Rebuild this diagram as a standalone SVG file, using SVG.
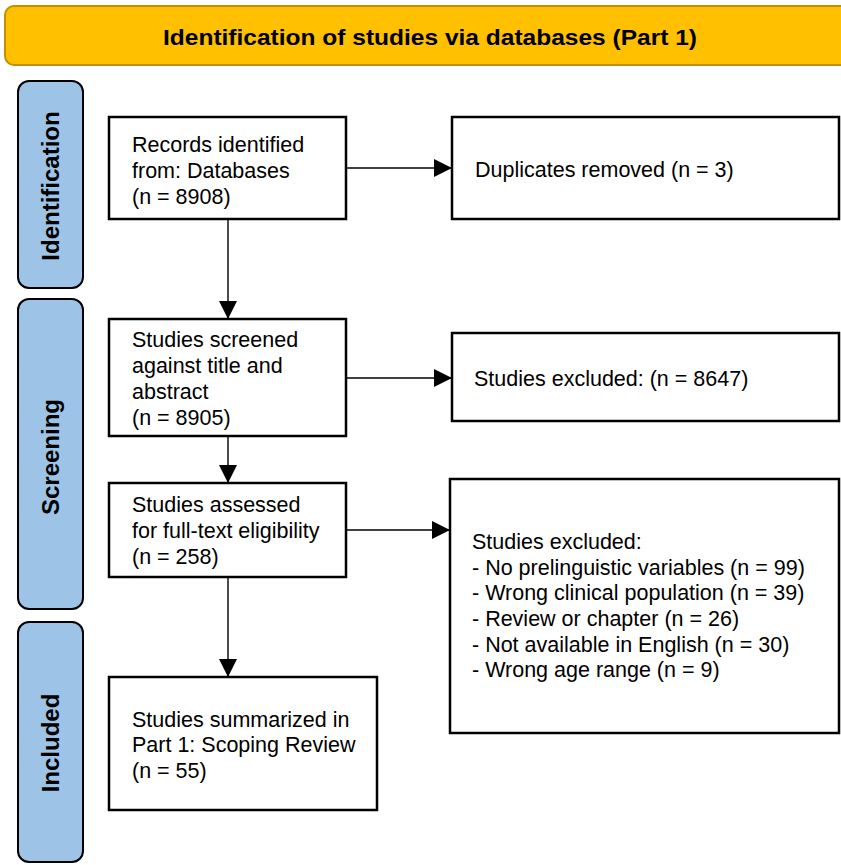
<svg xmlns="http://www.w3.org/2000/svg" width="841" height="865" viewBox="0 0 841 865">
<style>
.bg{fill:#ffffff}
.box{fill:#ffffff;stroke:#000000;stroke-width:2.5}
.side{fill:#9dc3e6;stroke:#000000;stroke-width:2}
.head{fill:#ffc000;stroke:#bf9000;stroke-width:2}
.t{font-family:"Liberation Sans",Arial,sans-serif;font-size:21.5px;fill:#000000}
.st{font-family:"Liberation Sans",Arial,sans-serif;font-size:24px;font-weight:bold;fill:#000000}
.ht{font-family:"Liberation Sans",Arial,sans-serif;font-size:22px;font-weight:bold;fill:#000000}
.ln{stroke:#000000;stroke-width:1.4;fill:none}
</style>
<defs>
<marker id="arr" viewBox="0 0 18 18" refX="18" refY="9" markerWidth="18" markerHeight="18" markerUnits="userSpaceOnUse" orient="auto">
<path d="M0,0 L18,9 L0,18 z" fill="#000000"/>
</marker>
</defs>
<rect class="bg" x="0" y="0" width="841" height="865"/>
<g id="header">
<rect class="head" x="5" y="6" width="850" height="59" rx="9"/>
<text class="ht" x="430" y="45" text-anchor="middle" textLength="534" lengthAdjust="spacingAndGlyphs">Identification of studies via databases (Part 1)</text>
</g>
<g id="stage-identification">
<rect class="side" x="18" y="81" width="65" height="207" rx="11"/>
<text class="st" transform="translate(59,186) rotate(-90)" text-anchor="middle">Identification</text>
</g>
<g id="stage-screening">
<rect class="side" x="18" y="299" width="65" height="310" rx="11"/>
<text class="st" transform="translate(59,457) rotate(-90)" text-anchor="middle">Screening</text>
</g>
<g id="stage-included">
<rect class="side" x="18" y="622" width="65" height="240" rx="11"/>
<text class="st" transform="translate(59,743) rotate(-90)" text-anchor="middle">Included</text>
</g>
<g id="connectors">
<line class="ln" x1="346" y1="168" x2="452" y2="168" marker-end="url(#arr)"/>
<line class="ln" x1="346" y1="378" x2="452" y2="378" marker-end="url(#arr)"/>
<line class="ln" x1="346" y1="530" x2="450" y2="530" marker-end="url(#arr)"/>
<line class="ln" x1="228" y1="219" x2="228" y2="319" marker-end="url(#arr)"/>
<line class="ln" x1="228" y1="436" x2="228" y2="483" marker-end="url(#arr)"/>
<line class="ln" x1="228" y1="577" x2="228" y2="677" marker-end="url(#arr)"/>
</g>
<g id="records">
<rect class="box" x="109" y="117" width="237" height="102"/>
<text class="t" x="132" y="152">Records identified</text>
<text class="t" x="132" y="178">from: Databases</text>
<text class="t" x="132" y="204">(n = 8908)</text>
</g>
<g id="duplicates">
<rect class="box" x="452" y="117" width="387" height="102"/>
<text class="t" x="475" y="177">Duplicates removed (n = 3)</text>
</g>
<g id="screened">
<rect class="box" x="109" y="319" width="237" height="117"/>
<text class="t" x="132" y="347">Studies screened</text>
<text class="t" x="132" y="373">against title and</text>
<text class="t" x="132" y="399">abstract</text>
<text class="t" x="132" y="425">(n = 8905)</text>
</g>
<g id="excluded1">
<rect class="box" x="452" y="333" width="387" height="88"/>
<text class="t" x="474" y="386">Studies excluded: (n = 8647)</text>
</g>
<g id="assessed">
<rect class="box" x="109" y="483" width="237" height="94"/>
<text class="t" x="132" y="512">Studies assessed</text>
<text class="t" x="132" y="538">for full-text eligibility</text>
<text class="t" x="132" y="564">(n = 258)</text>
</g>
<g id="excluded2">
<rect class="box" x="450" y="479" width="389" height="254"/>
<text class="t" x="472" y="549">Studies excluded:</text>
<text class="t" x="472" y="575">- No prelinguistic variables (n = 99)</text>
<text class="t" x="472" y="600">- Wrong clinical population (n = 39)</text>
<text class="t" x="472" y="626">- Review or chapter (n = 26)</text>
<text class="t" x="472" y="652">- Not available in English (n = 30)</text>
<text class="t" x="472" y="677">- Wrong age range (n = 9)</text>
</g>
<g id="included">
<rect class="box" x="109" y="677" width="268" height="133"/>
<text class="t" x="132" y="727">Studies summarized in</text>
<text class="t" x="132" y="752">Part 1: Scoping Review</text>
<text class="t" x="132" y="778">(n = 55)</text>
</g>
</svg>
